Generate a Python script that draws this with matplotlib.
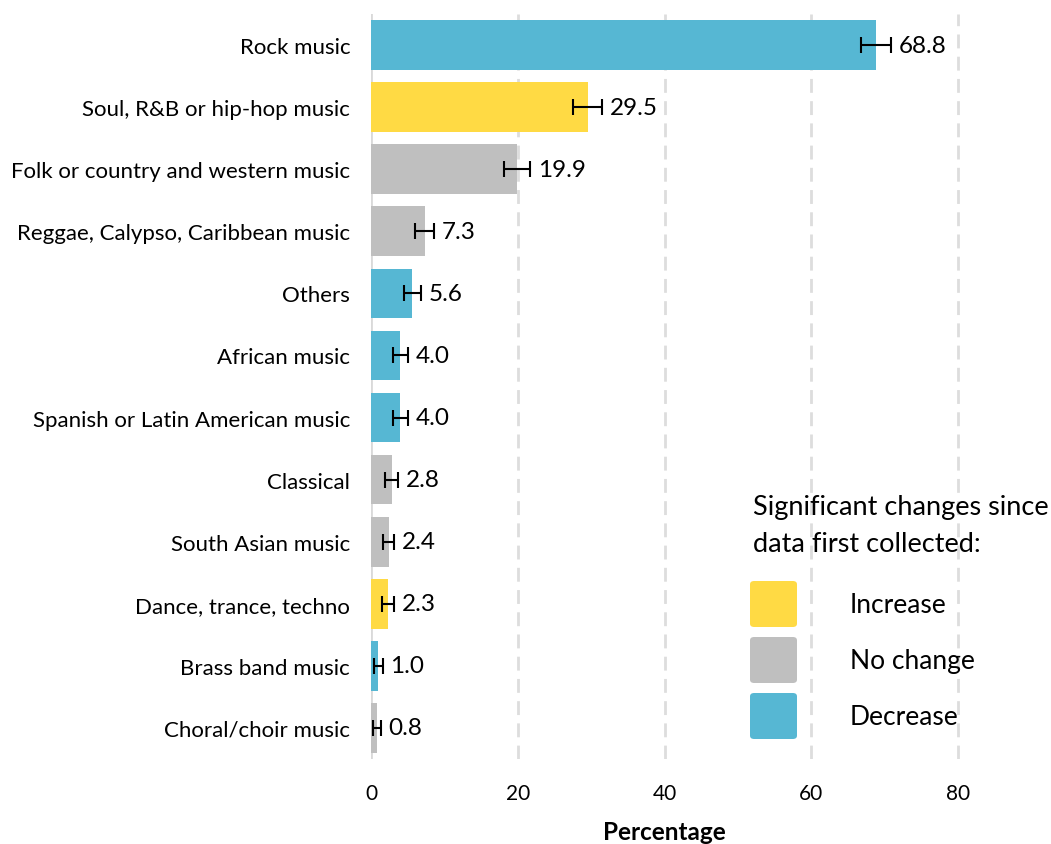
#horizontal bar chart of music genres with error bars and a change legend
import matplotlib
matplotlib.use('Agg')
import matplotlib.pyplot as plt
from matplotlib.patches import FancyBboxPatch
import numpy as np

plt.rcParams['font.family'] = ['Lato', 'DejaVu Sans']

categories = ['Rock music', 'Soul, R&B or hip-hop music', 'Folk or country and western music',
              'Reggae, Calypso, Caribbean music', 'Others', 'African music',
              'Spanish or Latin American music', 'Classical', 'South Asian music',
              'Dance, trance, techno', 'Brass band music', 'Choral/choir music']
values = [68.8, 29.5, 19.9, 7.3, 5.6, 4.0, 4.0, 2.8, 2.4, 2.3, 1.0, 0.8]
errors = [2.0, 2.0, 1.8, 1.3, 1.15, 1.0, 1.0, 0.9, 0.8, 0.85, 0.6, 0.5]
changes = ['Decrease', 'Increase', 'No change', 'No change', 'Decrease', 'Decrease',
           'Decrease', 'No change', 'No change', 'Increase', 'Decrease', 'No change']
legend_labels = ['Increase', 'No change', 'Decrease']

colours = {'Increase': '#FFDA44', 'No change': '#BFBFBF', 'Decrease': '#56B7D3'}

fig = plt.figure(figsize=(10.51, 8.45), dpi=100)
ax = fig.add_axes([371/1051, 1-760/845, (1039-371)/1051, (760-15)/845])

y = np.arange(len(categories))
ax.barh(y, values, height=0.8, color=[colours[c] for c in changes], zorder=2)
ax.errorbar(values, y, xerr=errors, fmt='none', ecolor='black', elinewidth=1.5,
            capsize=6, capthick=1.5, zorder=3)
for yi, v, e in zip(y, values, errors):
    ax.annotate(f'{v:.1f}', (v+e, yi), xytext=(5.5, 0), textcoords='offset points',
                va='center', ha='left', fontsize=17.5)

ax.set_xlim(0, 91)
ax.set_ylim(len(categories)-0.5, -0.5)
ax.set_yticks(y)
ax.set_yticklabels(categories, fontsize=16)
ax.set_xticks([0, 20, 40, 60, 80])
ax.tick_params(axis='both', length=0)
ax.tick_params(axis='x', labelsize=15, pad=17)
ax.tick_params(axis='y', pad=15)
for s in ax.spines.values():
    s.set_visible(False)
ax.axvline(0, color='#D9D9D9', lw=2, zorder=1)
for gx in [20, 40, 60, 80]:
    ax.axvline(gx, color='#DDDDDD', lw=2, ls=(0, (5, 3)), zorder=1)
ax.set_xlabel('Percentage', fontsize=17.5, fontweight='bold')
ax.xaxis.set_label_coords(40/91, -0.082)

# legend drawn by hand
fig.text(753/1051, 1-508/845, 'Significant changes since', fontsize=19.5, va='center', ha='left')
fig.text(753/1051, 1-545/845, 'data first collected:', fontsize=19.5, va='center', ha='left')
for i, lab in enumerate(legend_labels):
    top = 580 + i*56
    box = FancyBboxPatch((750/1051, 1-(top+48)/845), 47/1051, 46/845,
                         boxstyle='round,pad=0,rounding_size=0.004',
                         transform=fig.transFigure, color=colours[lab], ec='none')
    fig.patches.append(box)
    fig.text(850/1051, 1-(top+26)/845, lab, fontsize=19, va='center', ha='left')

plt.savefig('out.png', dpi=100)
